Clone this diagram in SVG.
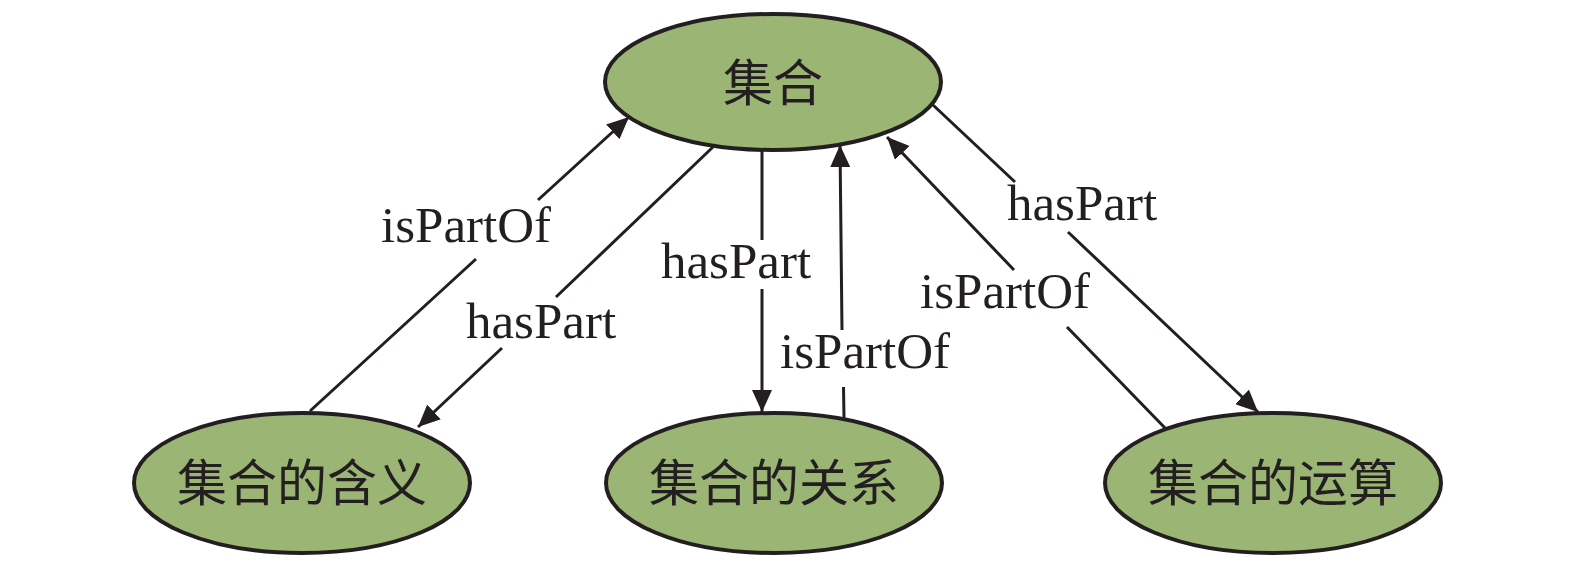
<svg xmlns="http://www.w3.org/2000/svg" width="1575" height="567" viewBox="0 0 1575 567">
<defs>
<style>
.node{fill:#9BB574;stroke:#231F20;stroke-width:4}
.ntext{font-family:"Liberation Serif","Noto Sans CJK SC",serif;font-size:50px;fill:#231F20;text-anchor:middle;dominant-baseline:central}
.edge{fill:none;stroke:#231F20;stroke-width:3}
.elabel{font-family:"Liberation Serif",serif;font-size:51px;fill:#231F20;text-anchor:middle}
</style>
<marker id="arr" markerUnits="userSpaceOnUse" markerWidth="24" markerHeight="20" refX="22" refY="10" orient="auto" viewBox="0 0 24 20">
<path d="M0,0 L22,10 L0,20 Z" fill="#231F20"/>
</marker>
</defs>
<rect width="1575" height="567" fill="#FFFFFF"/>
<g id="connectors">
<path class="edge" d="M310,411 L476,259 M538,200 L629,117" marker-end="url(#arr)"/>
<path class="edge" d="M713,147 L556,297 M502,348 L418,427" marker-end="url(#arr)"/>
<path class="edge" d="M762,150 L762,240 M762,289 L762,412" marker-end="url(#arr)"/>
<path class="edge" d="M844,418 L843.5,387 M842,330 L840,145" marker-end="url(#arr)"/>
<path class="edge" d="M1165,428 L1067,327 M1014,270 L887,137" marker-end="url(#arr)"/>
<path class="edge" d="M933,105 L1015,182 M1068,232 L1258,412" marker-end="url(#arr)"/>
<text class="elabel" x="466" y="242">isPartOf</text>
<text class="elabel" x="541" y="338">hasPart</text>
<text class="elabel" x="736" y="278">hasPart</text>
<text class="elabel" x="865" y="368">isPartOf</text>
<text class="elabel" x="1082" y="220">hasPart</text>
<text class="elabel" x="1005" y="308">isPartOf</text>
</g>
<g id="n-jihe">
<ellipse class="node" cx="773" cy="82" rx="168" ry="68"/>
<text class="ntext" x="773" y="84">集合</text>
</g>
<g id="n-hanyi">
<ellipse class="node" cx="302" cy="483" rx="168" ry="70"/>
<text class="ntext" x="302" y="484">集合的含义</text>
</g>
<g id="n-guanxi">
<ellipse class="node" cx="774" cy="483" rx="168" ry="70"/>
<text class="ntext" x="774" y="484">集合的关系</text>
</g>
<g id="n-yunsuan">
<ellipse class="node" cx="1273" cy="483" rx="168" ry="70"/>
<text class="ntext" x="1273" y="484">集合的运算</text>
</g>
</svg>
